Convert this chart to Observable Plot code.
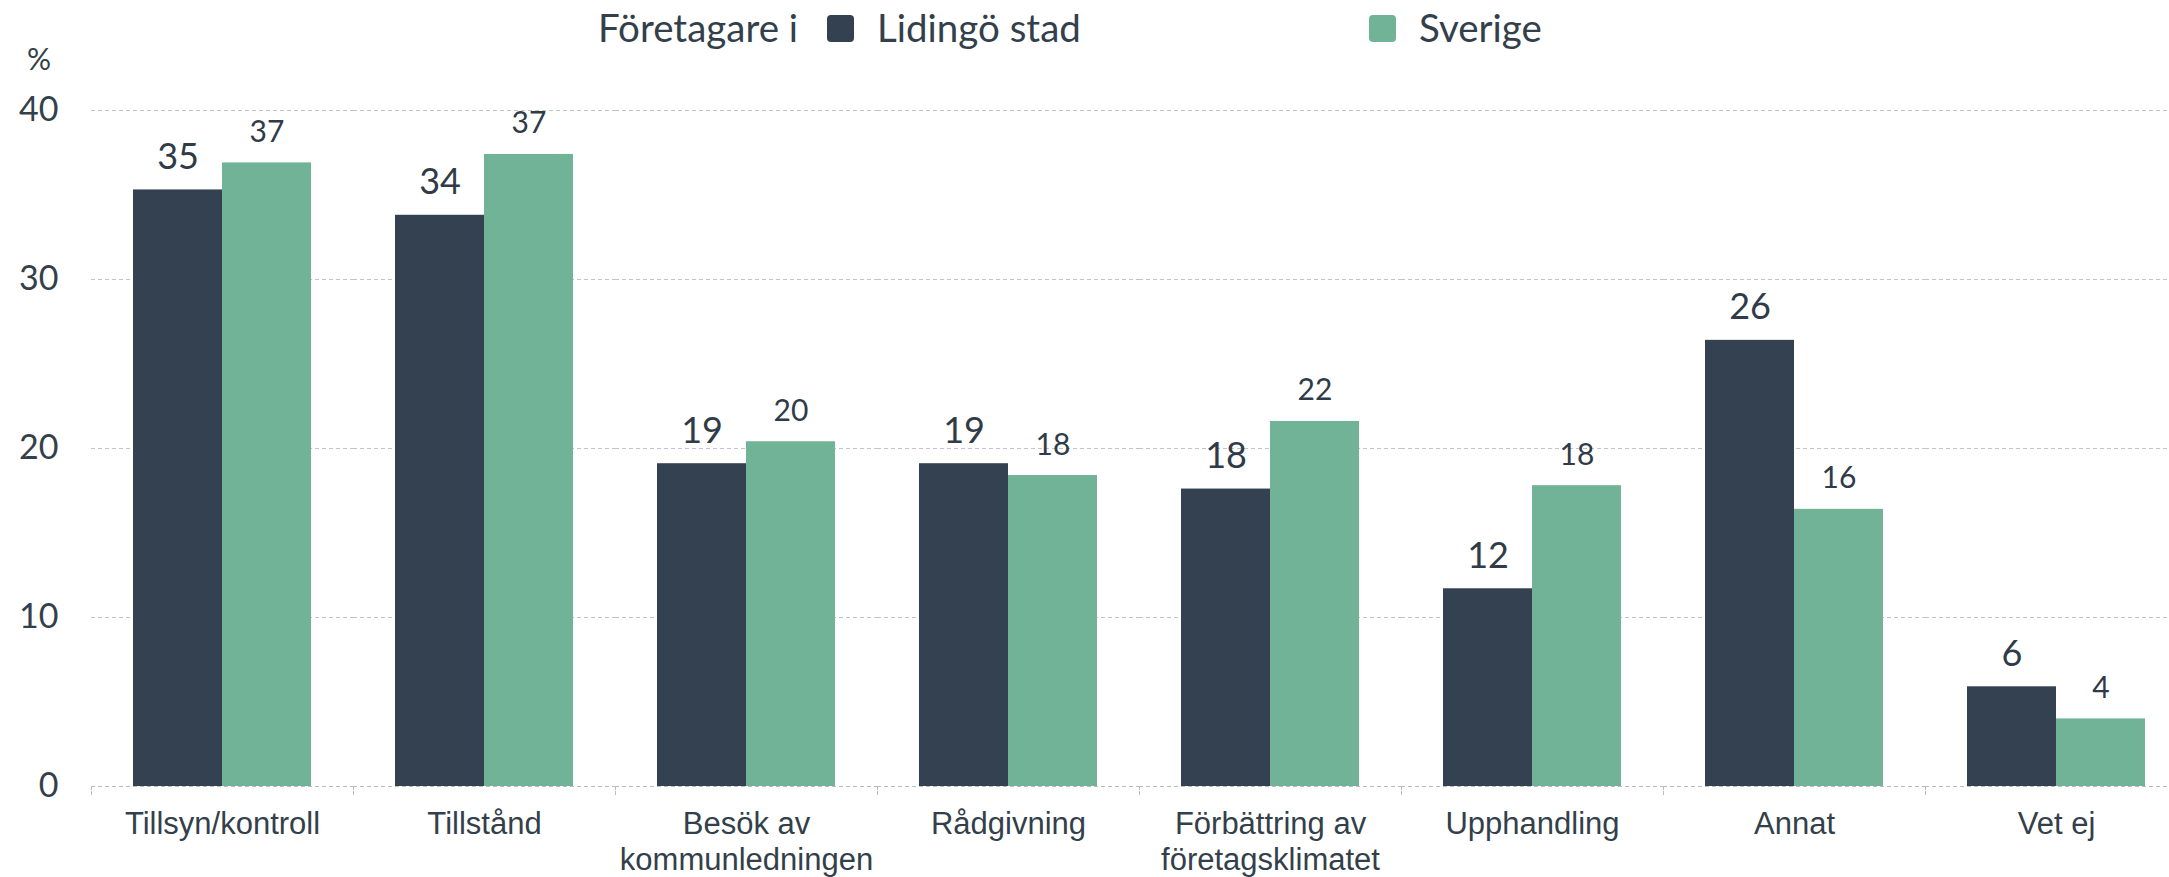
<!DOCTYPE html>
<html>
<head>
<meta charset="utf-8">
<script src="https://cdn.jsdelivr.net/npm/d3@7"></script>
<script src="https://cdn.jsdelivr.net/npm/@observablehq/plot@0.6"></script>
<style>
  html, body { margin: 0; padding: 0; background: white; }
  #wrap { position: relative; width: 2169px; height: 877px; overflow: hidden; }
  #legend { position: absolute; left: 0; top: 0; width: 2169px; height: 60px; font-family: Lato, sans-serif; font-size: 38.5px; color: #333f4b; }
  #legend span.t { position: absolute; line-height: 1.2; white-space: nowrap; }
  #legend span.sw { position: absolute; width: 27px; height: 27px; border-radius: 4px; }
  #unit { position: absolute; left: 27px; font-family: Lato, sans-serif; font-size: 30px; line-height: 1.2; color: #333f4b; }
</style>
</head>
<body>
<div id="wrap"></div>
<script>
const categories = ["Tillsyn/kontroll", "Tillstånd", "Besök av kommunledningen", "Rådgivning", "Förbättring av företagsklimatet", "Upphandling", "Annat", "Vet ej"];
const tickLabels = ["Tillsyn/kontroll", "Tillstånd", "Besök av\nkommunledningen", "Rådgivning", "Förbättring av\nföretagsklimatet", "Upphandling", "Annat", "Vet ej"];
const seriesNames = ["Lidingö stad", "Sverige"];
const lidingo = [35.3, 33.8, 19.1, 19.1, 17.6, 11.7, 26.4, 5.9];
const sverige = [36.9, 37.4, 20.4, 18.4, 21.6, 17.8, 16.4, 4.0];
const colors = ["#344150", "#71b396"];
const legendTitle = "Företagare i";
const yTicks = [0, 10, 20, 30, 40];
const unitLabel = "%";

const rows = [];
categories.forEach((c, i) => {
  rows.push({cat: c, series: seriesNames[0], value: lidingo[i]});
  rows.push({cat: c, series: seriesNames[1], value: sverige[i]});
});
const fmt = d3.format(".0f");
const textColor = "#2f3b48";

const chart = Plot.plot({
  width: 2169,
  height: 877,
  marginTop: 110,
  marginBottom: 91,
  marginLeft: 90,
  marginRight: 0,
  style: {fontFamily: "Lato, sans-serif", color: "#333f4b", background: "white"},
  fx: {domain: categories, range: [90, 2188], padding: 0, label: null},
  x: {domain: seriesNames, paddingInner: 0, paddingOuter: 0.457, axis: null},
  y: {domain: [0, 40]},
  color: {domain: seriesNames, range: colors},
  marks: [
    Plot.gridY(yTicks, {stroke: "#c4c4c4", strokeOpacity: 1, strokeDasharray: "4,3"}),
    Plot.axisY({ticks: yTicks, tickSize: 0, tickPadding: 33, fontSize: 34, label: null, fill: "#333f4b"}),
    Plot.axisFx({anchor: "bottom", tickSize: 0, tickPadding: 22, fontSize: 31, lineHeight: 1.16,
      fontFamily: "Liberation Sans, Arial, sans-serif", fill: "#333f4b",
      tickFormat: d => tickLabels[categories.indexOf(d)], label: null}),
    Plot.barY(rows, {fx: "cat", x: "series", y: "value", fill: "series"}),
    Plot.ruleY([0], {stroke: "#bbbbbb", strokeDasharray: "4,3"}),
    Plot.frame({anchor: "left", stroke: "#bbbbbb", strokeDasharray: "3,2", insetTop: 676, insetBottom: -10}),
    Plot.text(rows.filter(d => d.series === seriesNames[0]), {fx: "cat", x: "series", y: "value",
      text: d => fmt(d.value), lineAnchor: "bottom", dy: -21, fontSize: 36, fill: textColor}),
    Plot.text(rows.filter(d => d.series === seriesNames[1]), {fx: "cat", x: "series", y: "value",
      text: d => fmt(d.value), lineAnchor: "bottom", dy: -21, fontSize: 30, fill: textColor})
  ]
});

const wrap = document.getElementById("wrap");
wrap.appendChild(chart);

// Legend (HTML, overlaid at top)
const legend = document.createElement("div");
legend.id = "legend";
const title = document.createElement("span");
title.className = "t";
title.textContent = legendTitle;
title.style.left = "598px";
title.style.top = "4px";
legend.appendChild(title);
const swatchX = [827, 1369];
seriesNames.forEach((s, i) => {
  const sw = document.createElement("span");
  sw.className = "sw";
  sw.style.left = swatchX[i] + "px";
  sw.style.top = "15px";
  sw.style.background = colors[i];
  legend.appendChild(sw);
  const t = document.createElement("span");
  t.className = "t";
  t.textContent = s;
  t.style.left = (swatchX[i] + 50) + "px";
  t.style.top = "4px";
  legend.appendChild(t);
});
wrap.appendChild(legend);

const unit = document.createElement("div");
unit.id = "unit";
unit.textContent = unitLabel;
unit.style.top = "40px";
wrap.appendChild(unit);
</script>
</body>
</html>
